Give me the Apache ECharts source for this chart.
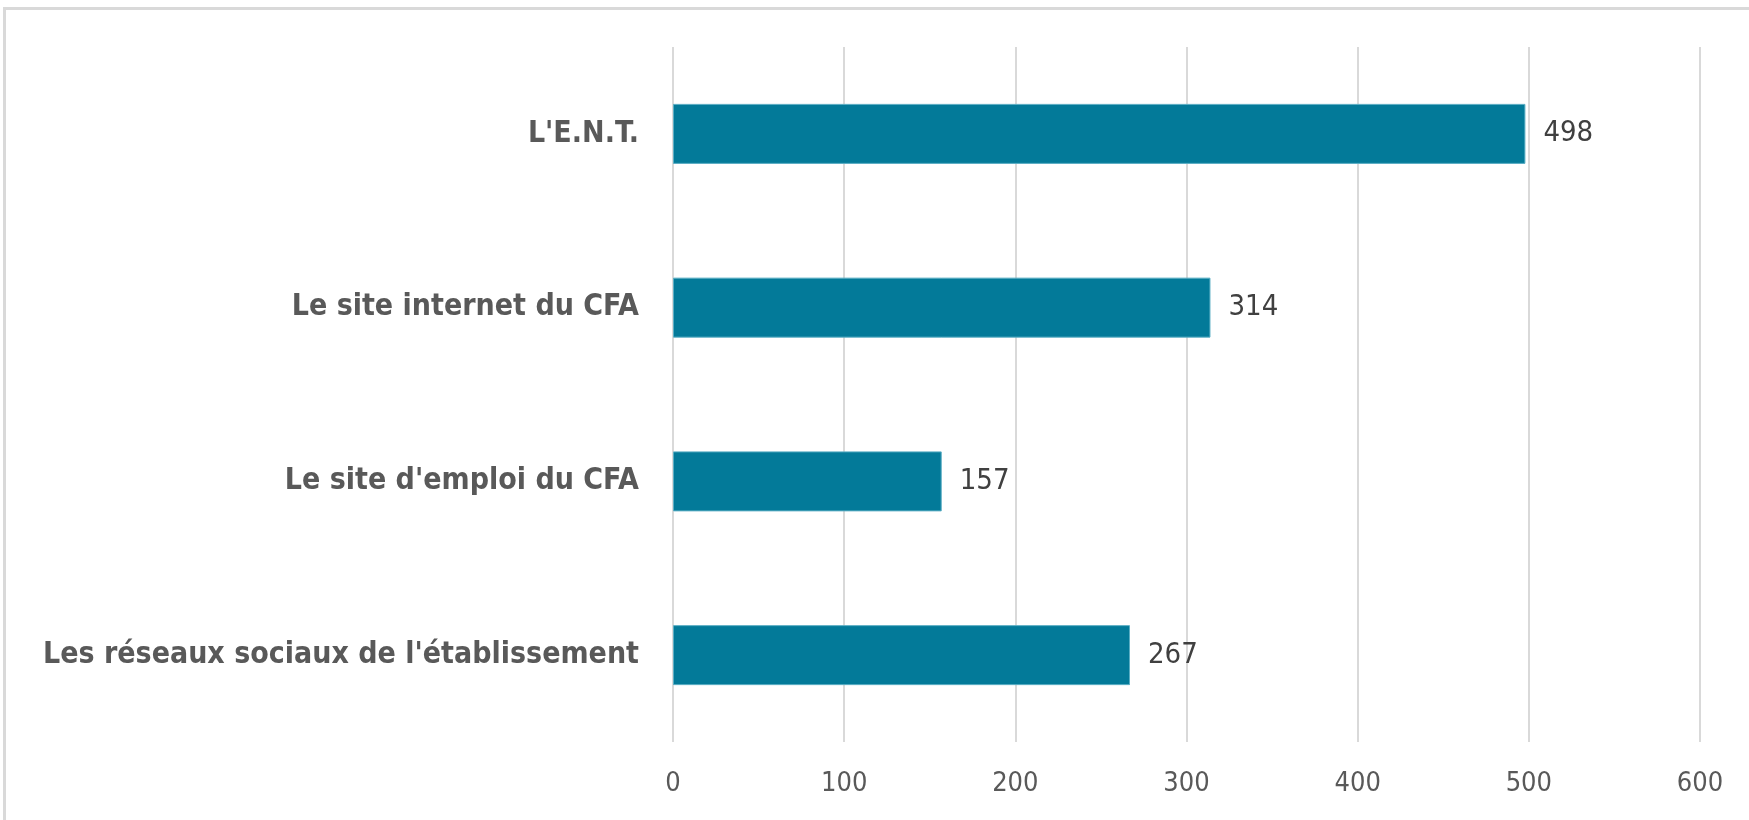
<!DOCTYPE html>
<html><head><meta charset="utf-8">
<script src="https://cdn.jsdelivr.net/npm/echarts@6/dist/echarts.min.js"></script>
<style>
html,body{margin:0;padding:0;background:#fff;}
#frame{position:absolute;left:3px;top:7px;width:1760px;height:830px;border:3px solid #d9d9d9;box-sizing:border-box;}
#c{position:absolute;left:0;top:0;width:1749px;height:820px;}
</style></head>
<body><div id="frame"></div><div id="c"></div>
<script>
const categories = ["L'E.N.T.", "Le site internet du CFA", "Le site d'emploi du CFA", "Les réseaux sociaux de l'établissement"];
const values = [498, 314, 157, 267];
const xTicks = [0, 100, 200, 300, 400, 500, 600];

const chart = echarts.init(document.getElementById('c'));
const font = "'Liberation Sans Narrow', 'DejaVu Sans Condensed', sans-serif";
chart.setOption({
  animation: false,
  grid: {left: 673, right: 49, top: 47, bottom: 78, containLabel: false},
  xAxis: {
    type: 'value', min: xTicks[0], max: xTicks[xTicks.length-1], interval: 100,
    axisLine: {show: false}, axisTick: {show: false},
    splitLine: {show: true, lineStyle: {color: '#d9d9d9', width: 2}},
    axisLabel: {color: '#595959', fontSize: 27, fontFamily: font, margin: 28}
  },
  yAxis: {
    type: 'category', data: categories, inverse: true,
    axisLine: {show: false}, axisTick: {show: false},
    axisLabel: {color: '#595959', fontSize: 30, fontWeight: 'bold', fontFamily: font, margin: 34}
  },
  series: [{
    type: 'bar', data: values, barWidth: 60,
    itemStyle: {color: '#037a99', borderColor: '#5aaec4', borderWidth: 1},
    label: {show: true, position: 'right', distance: 18, color: '#404040', fontSize: 29, fontFamily: font}
  }]
});
</script></body></html>
